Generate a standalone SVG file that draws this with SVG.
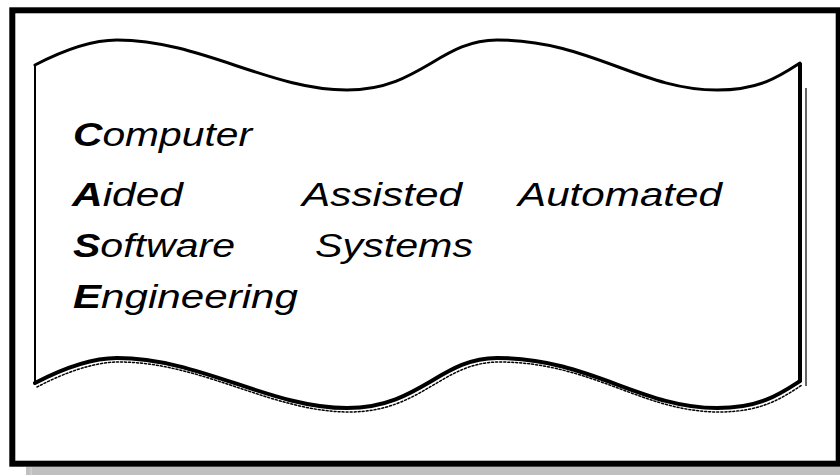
<svg xmlns="http://www.w3.org/2000/svg" width="840" height="475" viewBox="0 0 840 475">
  <style>
    .word { font-family: "Liberation Sans", Arial, sans-serif; font-style: italic; font-size: 33px; fill: #000; }
    .init { font-weight: bold; }
    .edge { fill: none; stroke: #000; stroke-linejoin: round; stroke-linecap: round; }
  </style>

  <!-- page background and framed panel with drop shadow -->
  <rect x="0" y="0" width="840" height="475" fill="#fff"/>
  <rect x="26" y="466.7" width="820" height="10" fill="#c0c0c0"/>
  <line x1="31" y1="467" x2="31" y2="475" stroke="#d8d8d8" stroke-width="1"/>
  <rect x="12.3" y="10.3" width="826.4" height="453.4" fill="#fff" stroke="#000" stroke-width="6"/>

  <!-- wavy banner -->
  <g id="banner">
    <path fill="#fff" stroke="none"
          d="M35,65 C60,52 90,40 117,40 C200,40 270,90 347,90 C420,90 440,40 497,40 C590,40 640,90 717,90 C760,90 780,76 800,63
             L800,381 C780,394 760,408 717,408 C640,408 590,358 497,358 C440,358 420,408 347,408 C270,408 200,358 117,358 C90,358 60,370 35,383 Z"/>
    <!-- top edge -->
    <path class="edge" stroke-width="3"
          d="M35,65 C60,52 90,40 117,40 C200,40 270,90 347,90 C420,90 440,40 497,40 C590,40 640,90 717,90 C760,90 780,76 800,63"/>
    <!-- bottom edge with its shaded fringe -->
    <path class="edge" stroke-width="1.5" stroke-dasharray="2 2" transform="translate(2,4)"
          d="M35,383 C60,370 90,358 117,358 C200,358 270,408 347,408 C420,408 440,358 497,358 C590,358 640,408 717,408 C760,408 780,394 800,381"/>
    <path class="edge" stroke-width="4"
          d="M35,383 C60,370 90,358 117,358 C200,358 270,408 347,408 C420,408 440,358 497,358 C590,358 640,408 717,408 C760,408 780,394 800,381"/>
    <!-- sides -->
    <line x1="35" y1="65" x2="35" y2="383" stroke="#000" stroke-width="2"/>
    <line x1="800" y1="63" x2="800" y2="381" stroke="#000" stroke-width="4"/>
    <line x1="806" y1="88" x2="806" y2="386" stroke="#000" stroke-width="1.2"/>
  </g>

  <!-- acronym lines -->
  <g id="line-c">
    <text class="word" x="73" y="146" textLength="179" lengthAdjust="spacingAndGlyphs"><tspan class="init">C</tspan>omputer</text>
  </g>
  <g id="line-a">
    <text class="word" x="72" y="205.7" textLength="111" lengthAdjust="spacingAndGlyphs"><tspan class="init">A</tspan>ided</text>
    <text class="word" x="302" y="205.7" textLength="160" lengthAdjust="spacingAndGlyphs">Assisted</text>
    <text class="word" x="518" y="205.7" textLength="204" lengthAdjust="spacingAndGlyphs">Automated</text>
  </g>
  <g id="line-s">
    <text class="word" x="73" y="257" textLength="162" lengthAdjust="spacingAndGlyphs"><tspan class="init">S</tspan>oftware</text>
    <text class="word" x="315" y="257" textLength="158" lengthAdjust="spacingAndGlyphs">Systems</text>
  </g>
  <g id="line-e">
    <text class="word" x="73" y="308" textLength="225" lengthAdjust="spacingAndGlyphs"><tspan class="init">E</tspan>ngineering</text>
  </g>
</svg>
